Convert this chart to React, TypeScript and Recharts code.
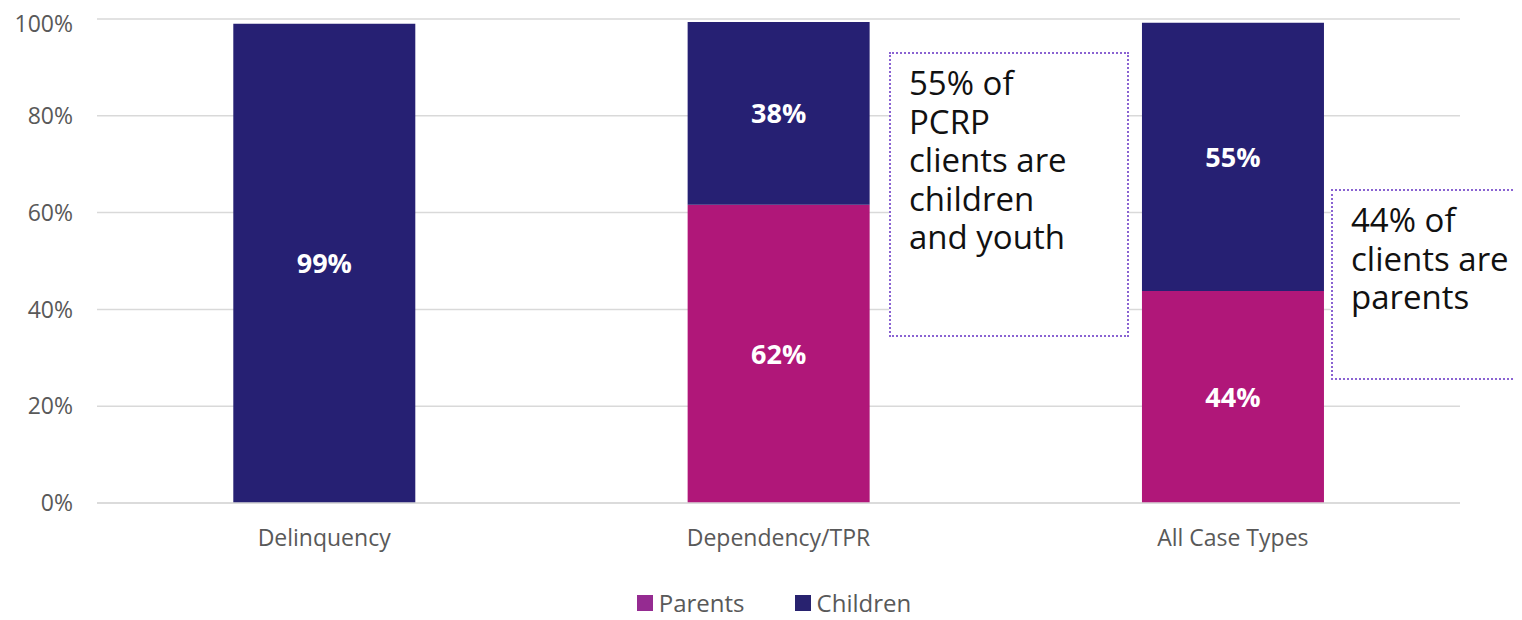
import { BarChart, Bar, XAxis, YAxis, CartesianGrid, Legend, LabelList } from 'recharts'

const categories = ['Delinquency', 'Dependency/TPR', 'All Case Types']
const parents = [0, 61.6, 43.8]
const children = [99, 37.8, 55.4]
const yTicks = [0, 20, 40, 60, 80, 100]

const PARENTS_COLOR = '#B01779'
const CHILDREN_COLOR = '#262073'
const FONT = '"Open Sans", sans-serif'

const chartData = categories.map((name, i) => ({
  name,
  Parents: parents[i],
  Children: children[i],
}))

const pct = (v: unknown) => {
  const n = Number(v)
  return n > 0 ? `${Math.round(n)}%` : ''
}

function LegendContent() {
  const items = [
    { label: 'Parents', color: '#952B91' },
    { label: 'Children', color: '#28226F' },
  ]
  return (
    <div style={{ display: 'flex', justifyContent: 'center', gap: 50, fontFamily: FONT, fontSize: 24, lineHeight: '24px', color: '#595959', paddingLeft: 26 }}>
      {items.map((it) => (
        <div key={it.label} style={{ display: 'flex', alignItems: 'center' }}>
          <span style={{ width: 16, height: 16, background: it.color, display: 'inline-block', marginRight: 6 }} />
          {it.label}
        </div>
      ))}
    </div>
  )
}

const calloutStyle = {
  position: 'absolute' as const,
  background: '#fff',
  border: '2px dotted #8A63D2',
  boxSizing: 'border-box' as const,
  fontFamily: FONT,
  fontSize: 33,
  lineHeight: '38.5px',
  color: '#111',
  padding: '10px 18px',
}

export default function App() {
  return (
    <div style={{ position: 'relative', width: 1514, height: 612, overflow: 'hidden' }}>
      <BarChart
        width={1506}
        height={612}
        data={chartData}
        margin={{ top: 11, right: 54, left: 0, bottom: 0 }}
        barCategoryGap="30%"
      >
        <CartesianGrid vertical={false} stroke="#D9D9D9" strokeWidth={1.5} />
        <XAxis
          dataKey="name"
          height={93}
          tickLine={false}
          axisLine={{ stroke: '#D9D9D9', strokeWidth: 1.5 }}
          tick={{ fontSize: 23, fill: '#595959', fontFamily: FONT }}
          tickMargin={21}
        />
        <YAxis
          width={89}
          domain={[0, 100]}
          ticks={yTicks}
          tickFormatter={(v) => `${v}%`}
          axisLine={false}
          tickLine={false}
          tickMargin={18}
          tick={{ fontSize: 23, fill: '#595959', fontFamily: FONT }}
        />
        <Legend
          content={<LegendContent />}
          wrapperStyle={{ top: 583, left: 0, width: 1506 }}
        />
        <Bar dataKey="Parents" stackId="a" fill={PARENTS_COLOR} isAnimationActive={false}>
          <LabelList
            dataKey="Parents"
            position="center"
            formatter={pct}
            style={{ fill: '#fff', fontSize: 27, fontWeight: 700, fontFamily: FONT }}
          />
        </Bar>
        <Bar dataKey="Children" stackId="a" fill={CHILDREN_COLOR} isAnimationActive={false}>
          <LabelList
            dataKey="Children"
            position="center"
            formatter={pct}
            style={{ fill: '#fff', fontSize: 27, fontWeight: 700, fontFamily: FONT }}
          />
        </Bar>
      </BarChart>
      <div style={{ ...calloutStyle, left: 881, top: 44, width: 240, height: 285 }}>
        <div style={{ width: 180 }}>55% of PCRP clients are children and youth</div>
      </div>
      <div style={{ ...calloutStyle, left: 1323, top: 181, width: 230, height: 191 }}>
        <div style={{ width: 170 }}>44% of clients are parents</div>
      </div>
    </div>
  )
}
